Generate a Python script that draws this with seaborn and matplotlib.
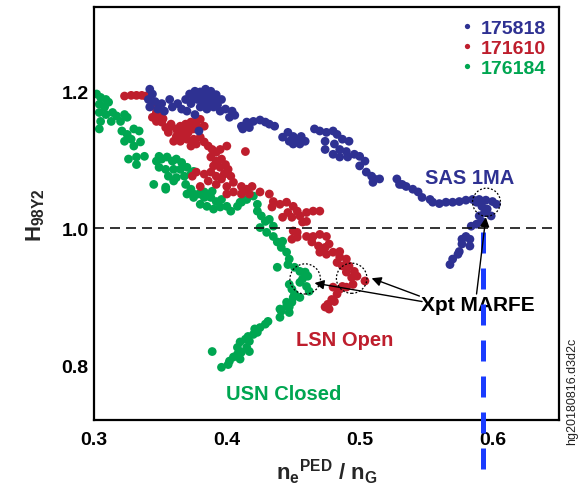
import matplotlib
matplotlib.use("Agg")
import matplotlib.pyplot as plt
from matplotlib.patches import Ellipse
import seaborn as sns
import pandas as pd

# ---------------- data ----------------
shots = ["175818", "171610", "176184"]
colors = ["#2e3192", "#be1e2d", "#00a651"]

blue_x = [0.342, 0.344, 0.341, 0.346, 0.342, 0.348, 0.351, 0.353, 0.357, 0.359, 0.363, 0.366,
          0.369, 0.372, 0.376, 0.380, 0.383, 0.387, 0.378, 0.382, 0.387, 0.391, 0.373, 0.380,
          0.385, 0.390, 0.395, 0.399, 0.404, 0.370, 0.376, 0.379, 0.402, 0.406, 0.396,
          0.384, 0.388, 0.380, 0.386, 0.392, 0.377, 0.389, 0.393, 0.383, 0.375,
          0.411, 0.415, 0.420, 0.425, 0.429, 0.432, 0.436, 0.412, 0.417,
          0.442, 0.446, 0.450, 0.453, 0.456, 0.450, 0.455, 0.459, 0.447,
          0.466, 0.470, 0.475, 0.480, 0.483, 0.487, 0.492, 0.474, 0.474, 0.481, 0.485, 0.490,
          0.480, 0.485, 0.491, 0.496, 0.500, 0.504, 0.500, 0.505, 0.509, 0.511, 0.515, 0.510,
          0.528, 0.532, 0.535, 0.530, 0.540, 0.544, 0.547, 0.553, 0.555, 0.560, 0.565, 0.570,
          0.575, 0.580, 0.585, 0.590, 0.595, 0.600, 0.603, 0.588, 0.592, 0.596, 0.594, 0.590,
          0.599, 0.592, 0.588, 0.584, 0.580, 0.583, 0.577, 0.577, 0.583, 0.575, 0.574, 0.570,
          0.568]
blue_y = [1.203, 1.196, 1.188, 1.185, 1.177, 1.174, 1.182, 1.171, 1.188, 1.177, 1.182, 1.174,
          1.188, 1.196, 1.200, 1.199, 1.196, 1.193, 1.188, 1.185, 1.182, 1.188, 1.182, 1.177,
          1.174, 1.177, 1.171, 1.174, 1.171, 1.171, 1.166, 1.142, 1.162, 1.165, 1.188,
          1.203, 1.200, 1.192, 1.190, 1.195, 1.194, 1.184, 1.180, 1.178, 1.190,
          1.149, 1.155, 1.156, 1.158, 1.155, 1.152, 1.149, 1.145, 1.147,
          1.133, 1.140, 1.134, 1.130, 1.134, 1.123, 1.123, 1.127, 1.127,
          1.145, 1.142, 1.140, 1.142, 1.137, 1.130, 1.127, 1.127, 1.115, 1.123, 1.115, 1.112,
          1.108, 1.104, 1.104, 1.108, 1.105, 1.098, 1.091, 1.082, 1.076, 1.072, 1.072, 1.067,
          1.072, 1.064, 1.061, 1.064, 1.057, 1.053, 1.045, 1.042, 1.038, 1.036, 1.038, 1.038,
          1.039, 1.041, 1.042, 1.042, 1.041, 1.039, 1.035, 1.038, 1.032, 1.028, 1.023, 1.018,
          1.018, 1.010, 1.006, 1.003, 0.988, 0.984, 0.984, 0.977, 0.974, 0.966, 0.962, 0.955,
          0.947]

red_x = [0.323, 0.328, 0.332, 0.336, 0.339, 0.345, 0.347, 0.350,
         0.344, 0.347, 0.351, 0.354, 0.358, 0.362, 0.365, 0.369, 0.373, 0.377, 0.380,
         0.356, 0.362, 0.366, 0.371, 0.375, 0.379, 0.383, 0.360, 0.365, 0.370, 0.375, 0.380,
         0.373, 0.377, 0.383, 0.386, 0.389, 0.392, 0.395, 0.400, 0.414, 0.388, 0.392, 0.396,
         0.390, 0.395, 0.401, 0.399, 0.377, 0.374, 0.383, 0.388, 0.392, 0.398, 0.403,
         0.380, 0.386, 0.392, 0.396, 0.400, 0.405, 0.411, 0.415, 0.419, 0.405, 0.411, 0.400,
         0.367, 0.371, 0.358, 0.363, 0.368, 0.352,
         0.412, 0.417, 0.425, 0.432, 0.435, 0.440, 0.434, 0.445, 0.450, 0.453, 0.446, 0.442,
         0.449, 0.455, 0.460, 0.465, 0.470, 0.460, 0.457, 0.450, 0.453, 0.449, 0.453, 0.460,
         0.465, 0.470, 0.475, 0.464, 0.469, 0.474, 0.477, 0.470, 0.475, 0.480, 0.485, 0.485,
         0.490, 0.483, 0.487, 0.492, 0.496, 0.490, 0.494, 0.498, 0.504, 0.495,
         0.480, 0.485, 0.483, 0.479, 0.481, 0.476, 0.477, 0.474, 0.487, 0.490]
red_y = [1.193, 1.194, 1.194, 1.194, 1.193, 1.178, 1.169, 1.164,
         1.162, 1.156, 1.155, 1.147, 1.149, 1.145, 1.149, 1.152, 1.155, 1.156, 1.159,
         1.140, 1.134, 1.137, 1.140, 1.145, 1.147, 1.149, 1.127, 1.127, 1.130, 1.130, 1.133,
         1.120, 1.123, 1.126, 1.120, 1.115, 1.111, 1.115, 1.120, 1.112, 1.104, 1.098, 1.101,
         1.091, 1.089, 1.086, 1.093, 1.082, 1.076, 1.079, 1.082, 1.076, 1.079, 1.076,
         1.061, 1.069, 1.064, 1.072, 1.061, 1.067, 1.061, 1.057, 1.061, 1.053, 1.050, 1.050,
         1.142, 1.150, 1.152, 1.141, 1.132, 1.160,
         1.053, 1.050, 1.053, 1.050, 1.039, 1.035, 1.031, 1.038, 1.032, 1.025, 1.023, 1.016,
         1.016, 1.018, 1.023, 1.025, 1.025, 1.010, 1.009, 0.996, 0.994, 0.984, 0.987, 0.988,
         0.988, 0.991, 0.988, 0.980, 0.974, 0.972, 0.977, 0.965, 0.962, 0.965, 0.966, 0.958,
         0.955, 0.950, 0.945, 0.945, 0.937, 0.936, 0.928, 0.930, 0.923, 0.918,
         0.914, 0.911, 0.904, 0.896, 0.893, 0.889, 0.882, 0.885, 0.915, 0.914]

green_x = [0.302, 0.305, 0.309, 0.311, 0.304, 0.308, 0.304, 0.309, 0.314, 0.317, 0.323, 0.325,
           0.305, 0.313, 0.320, 0.304, 0.321, 0.325, 0.330, 0.334, 0.328, 0.323, 0.330, 0.335,
           0.338, 0.332, 0.332, 0.326, 0.347, 0.349, 0.351, 0.355, 0.359, 0.362, 0.366,
           0.349, 0.354, 0.360, 0.365, 0.370, 0.356, 0.362, 0.368, 0.373, 0.375,
           0.345, 0.354, 0.369, 0.373, 0.375, 0.383, 0.388,
           0.354, 0.360, 0.370, 0.375, 0.379, 0.383, 0.386, 0.380, 0.385, 0.390, 0.395, 0.400,
           0.403, 0.392, 0.396, 0.389, 0.408, 0.410,
           0.411, 0.415, 0.420, 0.423, 0.423, 0.426, 0.429, 0.432, 0.435, 0.425, 0.430, 0.435,
           0.438, 0.442, 0.441, 0.445, 0.447, 0.438, 0.446, 0.451, 0.455, 0.459, 0.461, 0.457,
           0.455, 0.460, 0.447, 0.449, 0.462, 0.450, 0.445, 0.447,
           0.451, 0.455, 0.449, 0.445, 0.441, 0.440, 0.447, 0.431, 0.429, 0.425, 0.423, 0.420,
           0.416, 0.414, 0.417, 0.410, 0.408, 0.415, 0.417, 0.411, 0.408, 0.405, 0.410, 0.402,
           0.401, 0.396, 0.389, 0.421, 0.440]
green_y = [1.196, 1.191, 1.188, 1.184, 1.181, 1.177, 1.169, 1.166, 1.169, 1.164, 1.166, 1.162,
           1.156, 1.156, 1.156, 1.145, 1.142, 1.137, 1.145, 1.142, 1.130, 1.127, 1.120, 1.126,
           1.105, 1.104, 1.093, 1.101, 1.098, 1.105, 1.101, 1.104, 1.098, 1.101, 1.096,
           1.089, 1.086, 1.086, 1.086, 1.089, 1.076, 1.074, 1.076, 1.079, 1.083,
           1.064, 1.060, 1.064, 1.057, 1.050, 1.053, 1.045,
           1.057, 1.069, 1.050, 1.045, 1.050, 1.045, 1.047, 1.035, 1.032, 1.028, 1.031, 1.032,
           1.025, 1.039, 1.042, 1.054, 1.032, 1.038,
           1.038, 1.042, 1.047, 1.035, 1.025, 1.018, 1.010, 1.013, 1.003, 1.001, 0.994, 0.988,
           0.980, 0.981, 0.972, 0.965, 0.955, 0.943, 0.947, 0.943, 0.937, 0.936, 0.930, 0.926,
           0.921, 0.915, 0.918, 0.911, 0.908, 0.899, 0.892, 0.885,
           0.904, 0.899, 0.892, 0.886, 0.879, 0.870, 0.877, 0.864, 0.860, 0.855, 0.848, 0.845,
           0.842, 0.838, 0.835, 0.834, 0.826, 0.826, 0.820, 0.819, 0.816, 0.812, 0.809, 0.806,
           0.801, 0.797, 0.820, 0.853, 0.882]

# ---------------- figure ----------------
sns.set_theme(style="white")
plt.rcParams["font.family"] = ["Liberation Sans", "DejaVu Sans"]
plt.rcParams["font.weight"] = "bold"
plt.rcParams["mathtext.default"] = "bf"

df = pd.concat([
    pd.DataFrame({"x": green_x, "y": green_y, "shot": shots[2]}),
    pd.DataFrame({"x": red_x, "y": red_y, "shot": shots[1]}),
    pd.DataFrame({"x": blue_x, "y": blue_y, "shot": shots[0]}),
], ignore_index=True)

fig = plt.figure(figsize=(5.79, 4.89), dpi=100)
ax = fig.add_axes([0.1623, 0.139, 0.803, 0.8446])

sns.scatterplot(data=df, x="x", y="y", hue="shot", hue_order=shots,
                palette=colors, s=40, linewidth=0, ax=ax, legend=True)

ax.set_xlim(0.3, 0.65)
ax.set_ylim(0.72, 1.323)
ax.set_xticks([0.3, 0.4, 0.5, 0.6])
ax.set_yticks([0.8, 1.0, 1.2])
ax.set_xticklabels(["0.3", "0.4", "0.5", "0.6"])
ax.set_yticklabels(["0.8", "1.0", "1.2"])
ax.tick_params(direction="in", length=6, width=1.3, labelsize=14, colors="black")
ax.tick_params(axis="y", pad=4)
ax.tick_params(axis="x", pad=8)
for lab in ax.get_xticklabels() + ax.get_yticklabels():
    lab.set_fontweight("bold")
for sp in ax.spines.values():
    sp.set_color("black")
    sp.set_linewidth(1.6)

ax.set_xlabel(r"n$_\mathregular{e}$$^\mathregular{PED}$ / n$_\mathregular{G}$",
              fontsize=16, fontweight="bold", labelpad=6)
ax.set_ylabel(r"H$_\mathregular{98Y2}$", fontsize=16, fontweight="bold", labelpad=10)

# reference line at H98 = 1
ax.axhline(1.0, color="#111111", lw=1.2, dashes=(6, 3.6), zorder=1)

# blue dashed vertical line extending below the axes
ax.plot([0.593, 0.593], [0.995, 0.634], color="#1a3cff", lw=3.6,
        dashes=(4.2, 3.0), clip_on=False, zorder=4)

# dotted circles
for cx, cy, w, h in [(0.5955, 1.038, 0.021, 0.041),
                     (0.494, 0.927, 0.023, 0.044),
                     (0.459, 0.926, 0.023, 0.044)]:
    ax.add_patch(Ellipse((cx, cy), w, h, fill=False, ls=(0, (1.5, 1.5)),
                         lw=0.9, color="black", zorder=5))

# arrows
arrow_kw = dict(arrowstyle="-|>", color="black", lw=1.0, mutation_scale=14,
                shrinkA=0, shrinkB=0)
ax.annotate("", xy=(0.466, 0.920), xytext=(0.547, 0.893), arrowprops=arrow_kw, zorder=6)
ax.annotate("", xy=(0.509, 0.927), xytext=(0.545, 0.901), arrowprops=arrow_kw, zorder=6)
ax.annotate("", xy=(0.595, 1.016), xytext=(0.588, 0.904), arrowprops=arrow_kw, zorder=6)

# text annotations
ax.text(0.589, 0.889, "Xpt MARFE", color="black", fontsize=15, fontweight="bold",
        ha="center", va="center")
ax.text(0.583, 1.074, "SAS 1MA", color=colors[0], fontsize=14.5, fontweight="bold",
        ha="center", va="center")
ax.text(0.489, 0.838, "LSN Open", color=colors[1], fontsize=14.5, fontweight="bold",
        ha="center", va="center")
ax.text(0.443, 0.759, "USN Closed", color=colors[2], fontsize=14.5, fontweight="bold",
        ha="center", va="center")

# legend with coloured labels
handles, labels = ax.get_legend_handles_labels()
ax.legend(handles, labels, loc="upper right", frameon=False, labelcolor=colors,
          prop={"weight": "bold", "size": 14}, handletextpad=0.2, handlelength=1.0,
          labelspacing=0.12, borderaxespad=0.35, borderpad=0.3, markerscale=0.6)

fig.text(0.988, 0.20, "hg20180816.d3d2c", rotation=90, fontsize=9, color="#222222",
         ha="center", va="center", fontweight="normal")

fig.savefig("out.png", dpi=100)
